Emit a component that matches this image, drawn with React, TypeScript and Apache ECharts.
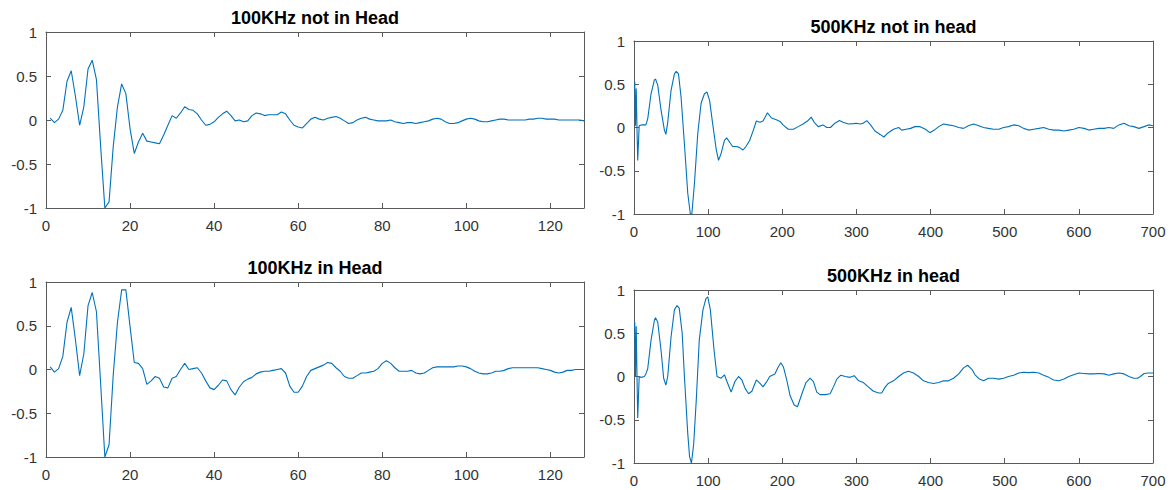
import React, { useEffect, useRef } from "react";
import * as echarts from "echarts";

// Received waveforms, 128 samples at 100 KHz (sample index 1..128)
const khz100NotInHead = [
  0.02, -0.03, 0.01, 0.11, 0.44, 0.56, 0.27, -0.06, 0.15, 0.58,
  0.68, 0.46, -0.3, -1.0, -0.93, -0.3, 0.15, 0.41, 0.3, -0.1,
  -0.38, -0.25, -0.15, -0.24, -0.25, -0.26, -0.27, -0.17, -0.06, 0.05,
  0.02, 0.08, 0.15, 0.12, 0.11, 0.07, 0.0, -0.06, -0.05, -0.02,
  0.03, 0.07, 0.1, 0.05, -0.01, 0.0, -0.02, -0.01, 0.05, 0.08,
  0.07, 0.05, 0.06, 0.06, 0.06, 0.09, 0.07, 0.0, -0.06, -0.08,
  -0.09, -0.04, 0.01, 0.03, 0.01, 0.0, 0.02, 0.03, 0.04, 0.02,
  -0.01, -0.04, -0.03, 0.0, 0.02, 0.03, 0.01, 0.0, -0.01, -0.01,
  -0.01, 0.0, -0.02, -0.03, -0.04, -0.03, -0.03, -0.04, -0.03, -0.02,
  -0.01, 0.01, 0.02, 0.01, -0.02, -0.04, -0.04, -0.03, -0.01, 0.01,
  0.02, 0.01, -0.01, -0.02, -0.02, -0.01, 0.0, 0.01, 0.01, 0.0,
  0.0, 0.0, 0.0, 0.0, 0.01, 0.01, 0.02, 0.02, 0.01, 0.01,
  0.01, 0.0, 0.0, 0.0, 0.0, 0.0, 0.0, -0.01,
];

const khz100InHead = [
  0.03, -0.03, 0.01, 0.15, 0.54, 0.71, 0.34, -0.07, 0.18, 0.73,
  0.88, 0.66, -0.16, -1.0, -0.86, -0.06, 0.54, 0.91, 0.91, 0.49,
  0.08, 0.07, 0.01, -0.17, -0.13, -0.08, -0.1, -0.2, -0.21, -0.1,
  -0.08, 0.0, 0.07, 0.0, 0.01, 0.02, -0.04, -0.13, -0.21, -0.23,
  -0.18, -0.12, -0.13, -0.23, -0.29, -0.2, -0.14, -0.11, -0.09, -0.05,
  -0.03, -0.02, -0.02, -0.01, 0.0, 0.01, -0.04, -0.19, -0.26, -0.26,
  -0.19, -0.08, -0.01, 0.01, 0.03, 0.05, 0.08, 0.07, 0.02, -0.02,
  -0.08, -0.1, -0.1, -0.07, -0.04, -0.04, -0.03, -0.02, 0.01, 0.07,
  0.1, 0.07, 0.02, -0.02, -0.02, -0.02, -0.01, -0.04, -0.05, -0.04,
  -0.01, 0.02, 0.03, 0.03, 0.03, 0.03, 0.03, 0.04, 0.04, 0.03,
  0.01, -0.02, -0.04, -0.05, -0.05, -0.04, -0.02, -0.02, -0.01, 0.01,
  0.02, 0.02, 0.02, 0.02, 0.02, 0.02, 0.02, 0.01, 0.0, -0.01,
  -0.03, -0.04, -0.03, -0.01, -0.01, 0.0, 0.0, 0.0,
];

// 500 KHz waveforms as [sample, amplitude] pairs
const khz500NotInHead: [number, number][] = [
  [1, 0.53], [2, 0.02], [3, 0.45], [4, 0.0], [5, -0.38], [7, 0.02], [10, 0.03], [13, 0.03],
  [16, 0.03], [18.5, 0.1], [23, 0.39], [27.5, 0.55], [29, 0.56], [32, 0.49], [36.5, 0.2],
  [41, -0.03], [43, -0.08], [45.5, 0.06], [50, 0.43], [54.5, 0.62], [57, 0.65], [60, 0.62],
  [63.5, 0.35], [68, -0.19], [72.5, -0.76], [76, -1.0], [78, -1.0], [81.5, -0.65], [86, -0.07],
  [90.5, 0.28], [95, 0.39], [98.5, 0.41], [102, 0.31], [106, 0.05], [111, -0.26], [114, -0.38],
  [117.5, -0.3], [122, -0.15], [125, -0.12], [129, -0.17], [133, -0.22], [138, -0.22],
  [142, -0.23], [147, -0.26], [151, -0.22], [156, -0.15], [161, -0.03], [165, 0.075],
  [170, 0.06], [174, 0.075], [180, 0.17], [185.5, 0.11], [192, 0.09], [197, 0.07], [201, 0.03],
  [208, -0.02], [215, -0.02], [221.5, 0.01], [228, 0.04], [234, 0.075], [239, 0.12], [243, 0.06],
  [248.5, 0.01], [255, 0.03], [260, 0.0], [265, 0.0], [271, 0.05], [277, 0.08], [282, 0.06],
  [289, 0.04], [296, 0.045], [300, 0.05], [305, 0.04], [309, 0.05], [314, 0.08], [319, 0.03],
  [325, -0.04], [332, -0.08], [337, -0.11], [343, -0.06], [350, -0.02], [357, 0.0], [361, -0.03],
  [367, -0.02], [373, -0.01], [379, 0.01], [386, 0.01], [393, -0.02], [399, -0.06], [405, -0.03],
  [411, 0.01], [417.5, 0.04], [424, 0.03], [431, 0.02], [438, 0.0], [444.5, -0.01], [451, 0.02],
  [458, 0.04], [465, 0.02], [471.5, 0.0], [478, -0.01], [485, -0.02], [492, -0.02], [498.5, 0.0],
  [505, 0.01], [512, 0.03], [519, 0.02], [525.5, -0.01], [532, -0.03], [539, -0.02], [546, -0.01],
  [552.5, 0.0], [559.5, -0.02], [566, -0.03], [573, -0.03], [580, -0.04], [586.5, -0.03],
  [593, -0.02], [600, 0.0], [607, -0.01], [613.5, -0.03], [620, -0.02], [627, -0.01], [634, -0.01],
  [640.5, 0.0], [647, -0.01], [654, 0.03], [661, 0.05], [667.5, 0.02], [674, 0.01], [681, -0.01],
  [688, 0.01], [694, 0.03], [700, 0.02],
];

const khz500InHead: [number, number][] = [
  [1, 0.63], [2, 0.0], [3, 0.58], [4, 0.02], [5, -0.48], [7, 0.0], [9.5, -0.01], [14, 0.0],
  [16, 0.03], [18.5, 0.09], [23, 0.42], [27.5, 0.65], [29, 0.68], [32, 0.63], [36.5, 0.3],
  [40, -0.02], [43, -0.1], [45.5, 0.0], [50, 0.46], [54.5, 0.77], [58, 0.82], [61, 0.79],
  [65, 0.5], [68, 0.0], [72.5, -0.66], [75, -0.93], [77.5, -1.0], [80.5, -0.78], [84, -0.27],
  [88, 0.42], [93, 0.77], [97, 0.9], [99.5, 0.92], [103, 0.77], [108, 0.3], [112, 0.0],
  [117.5, -0.02], [122, 0.02], [125.5, -0.06], [131, -0.18], [136, -0.06], [141, 0.0],
  [145.5, -0.04], [150, -0.14], [154.5, -0.2], [159, -0.17], [165, -0.04], [170, -0.08],
  [174, -0.12], [179, -0.06], [183, 0.0], [190, 0.03], [194.5, 0.11], [198, 0.16], [201.5, 0.11],
  [206, -0.04], [210.5, -0.22], [216, -0.33], [220.5, -0.35], [226.5, -0.2], [232, -0.07],
  [237.5, -0.02], [242, -0.06], [246.5, -0.18], [251, -0.21], [258, -0.21], [264.5, -0.2],
  [269, -0.12], [273.5, -0.03], [279, 0.015], [285, 0.0], [291.5, -0.01], [297, 0.01],
  [303, -0.05], [309.5, -0.07], [316, -0.12], [323, -0.17], [330, -0.19], [334, -0.19],
  [339, -0.12], [343, -0.08], [350, -0.05], [357, 0.0], [363.5, 0.04], [370, 0.06], [377, 0.04],
  [384, 0.0], [390.5, -0.05], [397, -0.07], [404, -0.08], [411, -0.07], [417.5, -0.05],
  [424, -0.05], [431, -0.02], [438, 0.03], [444.5, 0.1], [450, 0.13], [456, 0.08], [460, 0.02],
  [466, -0.03], [471.5, -0.05], [478, -0.02], [485, -0.02], [492, -0.03], [498.5, -0.02],
  [505, 0.0], [512, 0.015], [519, 0.04], [525.5, 0.05], [532, 0.045], [539, 0.05], [546, 0.04],
  [552.5, 0.015], [559.5, -0.01], [566, -0.04], [573, -0.05], [580, -0.03], [586.5, 0.0],
  [593, 0.02], [600, 0.04], [607, 0.035], [613.5, 0.03], [620, 0.03], [627, 0.035], [634, 0.03],
  [640.5, 0.015], [647, 0.03], [654, 0.04], [661, 0.03], [667.5, 0.0], [674, -0.02], [679, -0.02],
  [683, 0.0], [688, 0.035], [694, 0.04], [700, 0.04],
];

const titles = ["100KHz not in Head", "500KHz not in head", "100KHz in Head", "500KHz in head"];
const xMaxes = [128, 700, 128, 700];
const xIntervals = [20, 100, 20, 100];

const LINE = "#0072BD";
const AXIS = "#5a5a5a";
const LABEL = "#333333";
const FONT = '"Liberation Sans", Arial, Helvetica, sans-serif';

const grids = [
  { left: 46, top: 32, width: 538, height: 176 },
  { left: 634, top: 41, width: 519, height: 173 },
  { left: 46, top: 282, width: 538, height: 175 },
  { left: 634, top: 290, width: 519, height: 173 },
];

function withIndex(values: number[]): [number, number][] {
  return values.map((v, i) => [i + 1, v]);
}

export default function App() {
  const ref = useRef<HTMLDivElement>(null);

  useEffect(() => {
    if (!ref.current) return;
    const chart = echarts.init(ref.current, null, { renderer: "svg" });

    const seriesData = [
      withIndex(khz100NotInHead),
      khz500NotInHead,
      withIndex(khz100InHead),
      khz500InHead,
    ];

    const xAxis: any[] = [];
    const yAxis: any[] = [];
    const series: any[] = [];
    const title: any[] = [];

    grids.forEach((g, i) => {
      const common = { type: "value", gridIndex: i, splitLine: { show: false } };
      const axisLine = { show: true, onZero: false, lineStyle: { color: AXIS, width: 1 } };
      const tick = { show: true, inside: true, length: 5, lineStyle: { color: AXIS, width: 1 } };
      xAxis.push({
        ...common,
        position: "bottom",
        min: 0,
        max: xMaxes[i],
        interval: xIntervals[i],
        axisLine,
        axisTick: tick,
        axisLabel: { color: LABEL, fontSize: 15, fontFamily: FONT, margin: 10, showMaxLabel: xMaxes[i] % xIntervals[i] === 0 },
      });
      xAxis.push({
        ...common,
        position: "top",
        min: 0,
        max: xMaxes[i],
        interval: xIntervals[i],
        axisLine,
        axisTick: tick,
        axisLabel: { show: false },
      });
      yAxis.push({
        ...common,
        position: "left",
        min: -1,
        max: 1,
        interval: 0.5,
        axisLine,
        axisTick: tick,
        axisLabel: { color: LABEL, fontSize: 15, fontFamily: FONT, margin: 9 },
      });
      yAxis.push({
        ...common,
        position: "right",
        min: -1,
        max: 1,
        interval: 0.5,
        axisLine,
        axisTick: tick,
        axisLabel: { show: false },
      });
      series.push({
        type: "line",
        xAxisIndex: i * 2,
        yAxisIndex: i * 2,
        data: seriesData[i],
        showSymbol: false,
        symbol: "none",
        smooth: false,
        lineStyle: { color: LINE, width: 1.1 },
        clip: true,
      });
      title.push({
        text: titles[i],
        left: g.left + g.width / 2,
        top: g.top - 23,
        textAlign: "center",
        padding: 0,
        textStyle: { fontSize: 18, fontWeight: "bold", color: "#000", fontFamily: FONT },
      });
    });

    chart.setOption({
      animation: false,
      backgroundColor: "#fff",
      title,
      grid: grids,
      xAxis,
      yAxis,
      series,
    });

    return () => chart.dispose();
  }, []);

  return (
    <div
      ref={ref}
      style={{ position: "fixed", left: 0, top: 0, width: 1173, height: 490 }}
    />
  );
}
